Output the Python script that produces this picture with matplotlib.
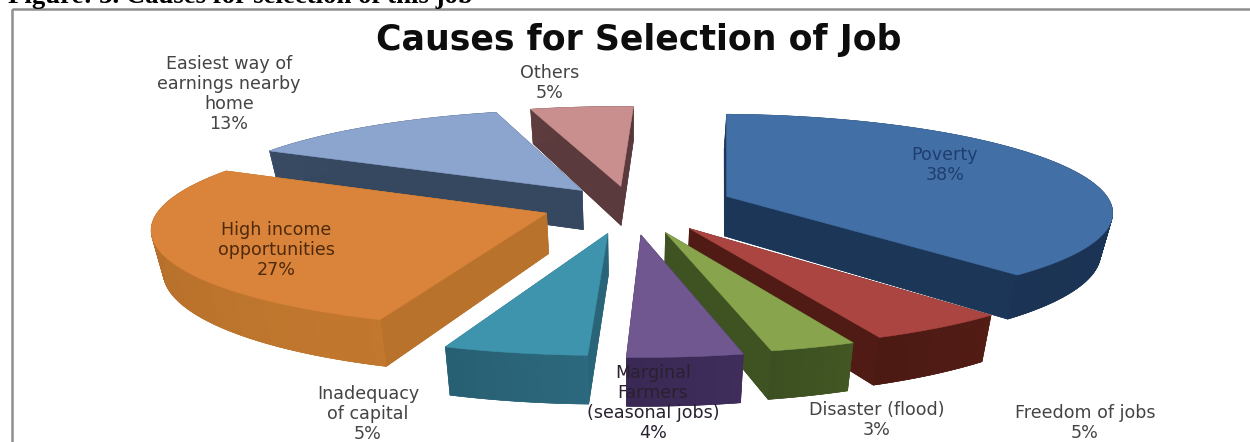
import numpy as np
import matplotlib
matplotlib.use("Agg")
import matplotlib.pyplot as plt
from matplotlib.collections import PolyCollection
from matplotlib.patches import Polygon, Rectangle

# Survey shares, clockwise from twelve o'clock
categories = ["Poverty", "Freedom of jobs", "Disaster (flood)",
              "Marginal\nFarmers\n(seasonal jobs)", "Inadequacy\nof capital",
              "High income\nopportunities", "Easiest way of\nearnings nearby\nhome",
              "Others"]
shares = [38, 5, 3, 4, 5, 27, 13, 5]

# Slice styling, same order as the categories
explode = [0.27, 0.28, 0.29, 0.30, 0.29, 0.23, 0.20, 0.20]
top_colors = ["#4270a6", "#ab4542", "#88a44d", "#705790", "#3f94ad", "#da833a", "#8ca5cf", "#c98f8f"]
side_colors = ["#1c3658", "#4f1b14", "#3f5322", "#3c2b58", "#2a6478", "#b9722c", "#36485f", "#5a3a3c"]
label_xy = [(945, 165), (1085, 423), (877, 420), (653, 403), (368, 414), (276, 250), (229, 94), (550, 83)]
label_colors = ["#1f3d70", "#444444", "#444444", "#2a2030", "#444444", "#4f2a0c", "#444444", "#444444"]
paint_order = [7, 6, 0, 5, 1, 2, 4, 3]

# Camera model for the tilted pie
CX, CY = 630.0, 205.0
RX, RY = 385.0, 96.0
PERSP = 0.14
ROTATION = 2.0
DEPTH = 40.0
INSET = 0.025


def project(u, v, lower=False):
    """Map plane coordinates of the pie to canvas pixels."""
    s = 1.0 / (1.0 + PERSP * v)
    x = RX * u * s
    y = CY - RY * v * s
    if lower:
        x = x * (1.0 - INSET)
        y = y + DEPTH * s
    return CX + x, y


def wedge_points(start, stop, offset):
    mid = np.radians((start + stop) / 2.0)
    ox, oy = offset * np.sin(mid), offset * np.cos(mid)
    arc = np.radians(np.linspace(start, stop, max(int(stop - start) * 2, 6)))
    return ox, oy, ox + np.sin(arc), oy + np.cos(arc)


def shade(colour, factor):
    rgb = np.array(matplotlib.colors.to_rgb(colour)) * factor
    return tuple(np.clip(rgb, 0, 1))


fig = plt.figure(figsize=(12.5, 4.42), dpi=100)
ax = fig.add_axes([0, 0, 1, 1])
ax.set_xlim(0, 1250)
ax.set_ylim(442, 0)
ax.axis("off")

# Chart frame, running off the right and bottom of the canvas, and the caption above it
ax.add_patch(Rectangle((12, 9), 1300, 500, fill=False, ec="#8f8f8f", lw=1.8, zorder=1))
ax.text(8, 3, "Figure: 3. Causes for selection of this job", family="Liberation Serif",
        weight="bold", fontsize=19.3, color="black", ha="left", va="baseline", zorder=6)
ax.text(639, 40, "Causes for Selection of Job", family="DejaVu Sans", weight="bold",
        fontsize=25, color="#0d0d0d", ha="center", va="center", zorder=6)

edges = np.concatenate([[0], np.cumsum(shares)]) * 3.6 + ROTATION
z = 2
for i in paint_order:
    ox, oy, us, vs = wedge_points(edges[i], edges[i + 1], explode[i])
    top_x, top_y = project(np.r_[ox, us], np.r_[oy, vs])
    low_x, low_y = project(np.r_[ox, us], np.r_[oy, vs], lower=True)

    # Solid underside and radial walls
    walls = [np.c_[low_x, low_y],
             np.array([[top_x[0], top_y[0]], [top_x[1], top_y[1]], [low_x[1], low_y[1]], [low_x[0], low_y[0]]]),
             np.array([[top_x[0], top_y[0]], [top_x[-1], top_y[-1]], [low_x[-1], low_y[-1]], [low_x[0], low_y[0]]])]
    for wall in walls:
        ax.add_patch(Polygon(wall, closed=True, fc=side_colors[i], ec=side_colors[i], lw=0.4, zorder=z))

    # Outer rim with a soft shading along the arc
    quads, tones = [], []
    n = len(us)
    for k in range(1, n):
        quads.append([(top_x[k], top_y[k]), (top_x[k + 1], top_y[k + 1]),
                      (low_x[k + 1], low_y[k + 1]), (low_x[k], low_y[k])])
        tones.append(shade(side_colors[i], 1.0 - 0.1 * (k / n - 0.5)))
    ax.add_collection(PolyCollection(quads, facecolors=tones, edgecolors=tones, linewidths=0.4, zorder=z))

    # Top face
    ax.add_patch(Polygon(np.c_[top_x, top_y], closed=True, fc=top_colors[i], ec=top_colors[i], lw=0.4, zorder=z + 0.5))
    z += 1

for name, share, (lx, ly), col in zip(categories, shares, label_xy, label_colors):
    ax.text(lx, ly, f"{name}\n{share}%", family="DejaVu Sans", fontsize=12.6, color=col,
            ha="center", va="center", linespacing=1.16, zorder=20)

fig.savefig("out.png", dpi=100, facecolor="white")
